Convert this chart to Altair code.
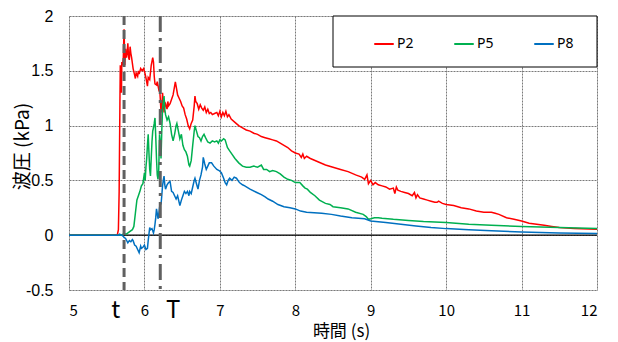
import altair as alt
import pandas as pd

# ---- data ----
p2_t = [5.00, 5.64, 5.655, 5.665, 5.675, 5.68, 5.69, 5.695, 5.70, 5.71, 5.72, 5.73, 5.74, 5.75, 5.76, 5.77, 5.78, 5.79, 5.80, 5.81,
        5.82, 5.83, 5.85, 5.87, 5.88, 5.89, 5.91, 5.92, 5.93, 5.95, 5.97, 5.99, 6.01, 6.03, 6.04, 6.05, 6.07, 6.09, 6.11, 6.12,
        6.13, 6.14, 6.16, 6.17, 6.19, 6.20, 6.21, 6.22, 6.23, 6.24, 6.25, 6.26, 6.27, 6.28, 6.30, 6.31, 6.32, 6.34, 6.36, 6.38,
        6.40, 6.41, 6.42, 6.44, 6.46, 6.48, 6.50, 6.52, 6.54, 6.56, 6.58, 6.60, 6.62, 6.64, 6.66, 6.67, 6.68, 6.70, 6.72, 6.74,
        6.76, 6.78, 6.80, 6.82, 6.84, 6.86, 6.88, 6.90, 6.93, 6.96, 6.98, 7.00, 7.02, 7.04, 7.06, 7.08, 7.10, 7.12, 7.15, 7.20,
        7.25, 7.30, 7.35, 7.40, 7.45, 7.50, 7.55, 7.60, 7.65, 7.70, 7.75, 7.80, 7.85, 7.90, 7.95, 8.00, 8.05, 8.08, 8.10, 8.12,
        8.15, 8.20, 8.30, 8.40, 8.50, 8.60, 8.70, 8.80, 8.88, 8.92, 8.95, 8.97, 9.00, 9.03, 9.06, 9.10, 9.15, 9.20, 9.25, 9.30,
        9.32, 9.34, 9.36, 9.40, 9.45, 9.50, 9.55, 9.58, 9.60, 9.62, 9.65, 9.70, 9.75, 9.80, 9.85, 9.88, 9.90, 9.95, 10.00, 10.10,
        10.20, 10.30, 10.40, 10.50, 10.60, 10.65, 10.70, 10.80, 10.90, 11.00, 11.10, 11.20, 11.30, 11.40, 11.50, 11.70, 12.00]
p2_v = [0, 0, 0.05, 0.4, 1.2, 1.55, 1.50, 1.30, 1.58, 1.55, 1.62, 1.88, 1.55, 1.70, 1.62, 1.66, 1.75, 1.62, 1.60, 1.72,
        1.66, 1.62, 1.52, 1.46, 1.43, 1.48, 1.45, 1.50, 1.47, 1.52, 1.50, 1.52, 1.47, 1.40, 1.36, 1.44, 1.42, 1.55, 1.62, 1.58,
        1.45, 1.38, 1.37, 1.40, 1.33, 1.35, 1.25, 1.12, 1.15, 1.30, 1.22, 1.12, 1.18, 1.20, 1.15, 1.22, 1.18, 1.20, 1.24, 1.28,
        1.36, 1.40, 1.36, 1.28, 1.25, 1.22, 1.18, 1.16, 1.10, 1.06, 1.00, 0.97, 1.02, 1.05, 1.18, 1.27, 1.22, 1.20, 1.15, 1.19,
        1.16, 1.14, 1.17, 1.12, 1.15, 1.11, 1.12, 1.10, 1.11, 1.12, 1.09, 1.13, 1.08, 1.12, 1.09, 1.13, 1.08, 1.10, 1.06, 1.03,
        1.00, 0.98, 0.96, 0.95, 0.93, 0.92, 0.90, 0.89, 0.88, 0.87, 0.86, 0.84, 0.82, 0.80, 0.77, 0.75, 0.74, 0.71, 0.74, 0.70,
        0.72, 0.70, 0.67, 0.64, 0.62, 0.60, 0.58, 0.55, 0.53, 0.51, 0.55, 0.47, 0.50, 0.46, 0.48, 0.46, 0.45, 0.44, 0.42, 0.43,
        0.38, 0.44, 0.41, 0.40, 0.39, 0.38, 0.36, 0.39, 0.34, 0.37, 0.34, 0.33, 0.32, 0.31, 0.30, 0.30, 0.31, 0.29, 0.28, 0.27,
        0.25, 0.24, 0.22, 0.21, 0.21, 0.20, 0.19, 0.16, 0.145, 0.13, 0.11, 0.10, 0.09, 0.08, 0.07, 0.06, 0.055]

p5_t = [5.00, 5.70, 5.72, 5.76, 5.80, 5.84, 5.86, 5.88, 5.90, 5.92, 5.94, 5.96, 5.98, 6.00, 6.01, 6.02, 6.03, 6.04, 6.05, 6.06,
        6.07, 6.08, 6.09, 6.10, 6.11, 6.12, 6.13, 6.14, 6.15, 6.16, 6.17, 6.18, 6.19, 6.20, 6.21, 6.22, 6.23, 6.24, 6.25, 6.26,
        6.27, 6.28, 6.30, 6.32, 6.34, 6.36, 6.38, 6.40, 6.42, 6.43, 6.45, 6.47, 6.49, 6.51, 6.53, 6.55, 6.57, 6.59, 6.60, 6.62,
        6.64, 6.66, 6.67, 6.69, 6.71, 6.73, 6.75, 6.77, 6.79, 6.81, 6.84, 6.87, 6.90, 6.93, 6.96, 6.98, 7.00, 7.02, 7.05, 7.07,
        7.10, 7.13, 7.16, 7.20, 7.25, 7.30, 7.35, 7.40, 7.45, 7.50, 7.55, 7.58, 7.62, 7.66, 7.70, 7.75, 7.80, 7.85, 7.90, 7.95,
        8.00, 8.06, 8.10, 8.13, 8.16, 8.20, 8.26, 8.32, 8.40, 8.46, 8.50, 8.60, 8.70, 8.80, 8.90, 8.94, 8.97, 9.00, 9.05, 9.10,
        9.15, 9.30, 9.50, 9.70, 10.00, 10.30, 10.60, 11.00, 11.50, 12.00]
p5_v = [0, 0, 0.01, 0.01, 0.03, 0.05, 0.08, 0.20, 0.32, 0.36, 0.40, 0.45, 0.47, 0.57, 0.50, 0.62, 0.70, 0.82, 0.92, 0.75,
        0.60, 0.54, 0.70, 0.85, 0.95, 0.98, 1.02, 1.07, 0.90, 0.70, 0.55, 0.51, 0.60, 0.92, 0.85, 0.70, 0.95, 1.15, 1.22, 1.27,
        1.15, 1.10, 1.05, 1.08, 1.02, 0.92, 0.86, 0.92, 1.00, 1.02, 0.95, 0.88, 0.92, 0.82, 0.78, 0.76, 0.72, 0.64, 0.63, 0.68,
        0.82, 0.95, 1.00, 0.95, 0.90, 0.89, 0.86, 0.90, 0.92, 0.89, 0.85, 0.84, 0.86, 0.85, 0.86, 0.84, 0.87, 0.86, 0.88, 0.87,
        0.80, 0.77, 0.74, 0.70, 0.66, 0.63, 0.62, 0.62, 0.63, 0.62, 0.64, 0.60, 0.60, 0.58, 0.59, 0.58, 0.56, 0.53, 0.51, 0.50,
        0.48, 0.48, 0.45, 0.43, 0.42, 0.39, 0.36, 0.32, 0.29, 0.28, 0.26, 0.25, 0.24, 0.21, 0.19, 0.17, 0.145, 0.15, 0.16, 0.16,
        0.155, 0.145, 0.135, 0.125, 0.115, 0.10, 0.09, 0.08, 0.07, 0.06]

p8_t = [5.00, 5.66, 5.67, 5.70, 5.72, 5.73, 5.75, 5.78, 5.80, 5.82, 5.84, 5.85, 5.87, 5.89, 5.91, 5.93, 5.95, 5.96, 5.98, 6.00,
        6.02, 6.04, 6.05, 6.07, 6.08, 6.10, 6.12, 6.13, 6.14, 6.15, 6.16, 6.17, 6.18, 6.19, 6.20, 6.21, 6.22, 6.23, 6.24, 6.25,
        6.26, 6.27, 6.28, 6.30, 6.32, 6.34, 6.36, 6.38, 6.40, 6.42, 6.44, 6.46, 6.47, 6.49, 6.51, 6.53, 6.55, 6.57, 6.59, 6.60,
        6.62, 6.64, 6.66, 6.67, 6.69, 6.71, 6.73, 6.75, 6.77, 6.78, 6.80, 6.82, 6.84, 6.86, 6.89, 6.92, 6.96, 6.99, 7.02, 7.05,
        7.07, 7.09, 7.11, 7.13, 7.16, 7.19, 7.22, 7.26, 7.30, 7.33, 7.40, 7.49, 7.55, 7.60, 7.64, 7.70, 7.77, 7.85, 7.93, 8.00,
        8.07, 8.15, 8.25, 8.35, 8.48, 8.60, 8.75, 8.92, 9.00, 9.20, 9.40, 9.60, 9.80, 10.00, 10.30, 10.60, 11.00, 11.50, 12.00]
p8_v = [0, 0, 0.01, 0.0, -0.01, -0.02, -0.03, -0.07, -0.05, -0.06, -0.04, -0.05, -0.09, -0.10, -0.13, -0.16, -0.10, -0.12, -0.11, -0.09,
        -0.13, -0.12, -0.05, 0.07, 0.05, 0.06, 0.02, 0.05, 0.10, 0.16, 0.24, 0.20, 0.15, 0.19, 0.25, 0.30, 0.28, 0.36, 0.45, 0.50,
        0.54, 0.46, 0.42, 0.46, 0.48, 0.49, 0.40, 0.39, 0.36, 0.33, 0.36, 0.30, 0.27, 0.32, 0.36, 0.40, 0.38, 0.40, 0.36, 0.40,
        0.38, 0.44, 0.50, 0.52, 0.47, 0.42, 0.50, 0.55, 0.62, 0.71, 0.65, 0.60, 0.63, 0.66, 0.66, 0.63, 0.60, 0.59, 0.57, 0.52,
        0.48, 0.46, 0.50, 0.52, 0.50, 0.53, 0.52, 0.48, 0.46, 0.45, 0.42, 0.39, 0.37, 0.35, 0.33, 0.31, 0.28, 0.26, 0.25, 0.24,
        0.22, 0.21, 0.205, 0.20, 0.19, 0.175, 0.16, 0.15, 0.13, 0.115, 0.10, 0.085, 0.07, 0.06, 0.05, 0.04, 0.03, 0.02, 0.015]

series_names = ["P2", "P5", "P8"]
series_colors = ["#FF0000", "#00B050", "#0070C0"]
x_ticks = [5, 6, 7, 8, 9, 10, 11, 12]
y_ticks = [-0.5, 0, 0.5, 1, 1.5, 2]
marker_t = 5.73      # dashed line t
marker_T = 6.21      # dash-dot line T
marker_labels = ["t", "T"]
marker_label_x = [5.62, 6.38]

rows = []
for name, ts, vs in zip(series_names, [p2_t, p5_t, p8_t], [p2_v, p5_v, p8_v]):
    for i, (t, v) in enumerate(zip(ts, vs)):
        rows.append({"series": name, "time": t, "value": v, "idx": i})
df = pd.DataFrame(rows)

W, H = 528, 274
FONT_JP = "Noto Sans CJK JP"

xscale = alt.Scale(domain=[5, 12], nice=False, zero=False)
yscale = alt.Scale(domain=[-0.5, 2], nice=False, zero=False)

grid_style = dict(grid=True, gridColor="#7a7a7a", gridDash=[2, 1], gridWidth=1, ticks=False, domain=False)

lines = alt.Chart(df).mark_line(strokeWidth=1.5).encode(
    x=alt.X("time:Q", scale=xscale,
            axis=alt.Axis(values=x_ticks, labelExpr="toString(datum.value)", title="時間 (s)",
                          labelFont=FONT_JP, labelFontSize=15, labelColor="#000", labelPadding=13,
                          titleFont=FONT_JP, titleFontSize=17, titleFontWeight="normal", titleColor="#000",
                          titleX=272, titleY=41, titleBaseline="middle", **grid_style)),
    y=alt.Y("value:Q", scale=yscale,
            axis=alt.Axis(values=y_ticks, labelExpr="toString(datum.value)", title="波圧 (kPa)",
                          labelFont="Liberation Sans", labelFontSize=16, labelColor="#000", labelPadding=16,
                          titleFont=FONT_JP, titleFontSize=19, titleFontWeight="normal", titleColor="#000",
                          titleX=-47, titleY=130, titleAngle=270, titleBaseline="middle", titleAlign="center",
                          **grid_style)),
    color=alt.Color("series:N", scale=alt.Scale(domain=series_names, range=series_colors),
                    legend=alt.Legend(title=None, orient="none", legendX=304, legendY=17, direction="horizontal",
                                      symbolType="stroke", symbolSize=380, symbolStrokeWidth=2,
                                      labelFont="Noto Sans", labelFontSize=14, labelColor="#000",
                                      labelOffset=2, columnPadding=36, padding=0)),
    order="idx:Q",
)

zero_line = alt.Chart(pd.DataFrame({"y": [0]})).mark_rule(color="#000", strokeWidth=1.3).encode(
    y=alt.Y("y:Q", scale=yscale))

line_t = alt.Chart(pd.DataFrame({"x": [marker_t]})).mark_rule(
    color="#606060", strokeWidth=3, strokeDash=[9, 5]).encode(x=alt.X("x:Q", scale=xscale))
line_T = alt.Chart(pd.DataFrame({"x": [marker_T]})).mark_rule(
    color="#606060", strokeWidth=3, strokeDash=[16, 6, 3, 6]).encode(x=alt.X("x:Q", scale=xscale))

marker_text = alt.Chart(pd.DataFrame({"x": marker_label_x, "label": marker_labels})).mark_text(
    font=FONT_JP, fontSize=24, color="#000", baseline="middle", align="center").encode(
    x=alt.X("x:Q", scale=xscale), y=alt.value(H + 21), text="label:N")

legend_box = alt.Chart(pd.DataFrame({"a": [0]})).mark_rect(
    fill="white", stroke="#000", strokeWidth=1).encode(
    x=alt.value(264), x2=alt.value(W), y=alt.value(0), y2=alt.value(51))

chart = alt.layer(zero_line, lines, line_t, line_T, legend_box, marker_text).properties(
    width=W, height=H,
    autosize=alt.AutoSizeParams(type="none"),
    padding={"left": 61, "top": 8, "right": 13, "bottom": 52},
).configure_view(stroke="#000", strokeWidth=1).configure(background="white")

chart.save("out.html", embed_options={"renderer": "svg", "actions": False})
